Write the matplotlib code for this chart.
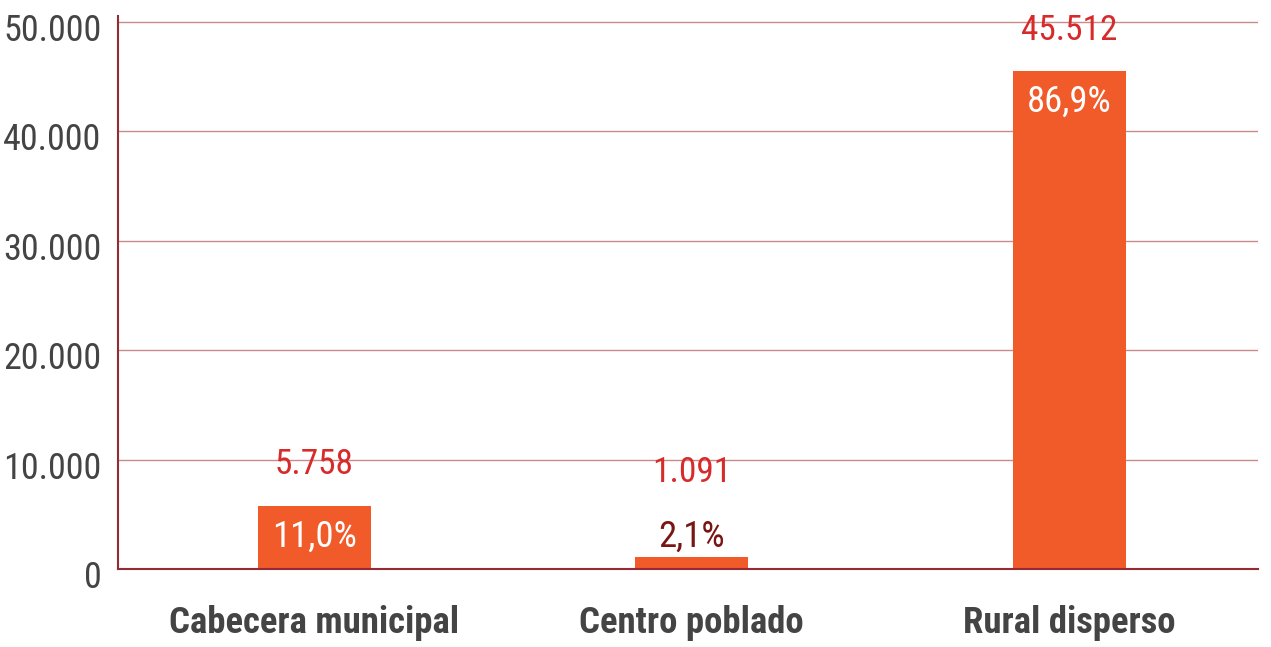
import matplotlib
matplotlib.use("Agg")
import matplotlib.pyplot as plt
from matplotlib.ticker import FuncFormatter
from matplotlib.transforms import ScaledTranslation

categories = ["Cabecera municipal", "Centro poblado", "Rural disperso"]
values = [5758, 1091, 45512]
percents = ["11,0%", "2,1%", "86,9%"]
yticks = [0, 10000, 20000, 30000, 40000, 50000]

FONT = ["Roboto Condensed", "Oswald", "Liberation Sans Narrow", "DejaVu Sans Condensed", "DejaVu Sans"]
plt.rcParams["font.family"] = FONT

BAR = "#F15A29"
VAL = "#D72B2B"
PCT_OUT = "#7A1515"
GRID = "#C98A8C"
SPINE = "#962A32"
TXT = "#444444"

fig = plt.figure(figsize=(12.71, 6.47), dpi=100)
ax = fig.add_axes([0.0928, 0.1206, 0.897, 0.854])

x = list(range(len(categories)))
bars = ax.bar(x, values, width=0.30, color=BAR, zorder=3)

ax.set_xlim(-0.52, 2.5)
ax.set_ylim(0, 50500)
ax.set_yticks(yticks)
ax.yaxis.set_major_formatter(FuncFormatter(lambda v, p: f"{int(v):,}".replace(",", ".")))
ax.grid(axis="y", color=GRID, linewidth=1.0, zorder=0)
ax.set_axisbelow(True)

for s in ["top", "right"]:
    ax.spines[s].set_visible(False)
for s in ["left", "bottom"]:
    ax.spines[s].set_color(SPINE)
    ax.spines[s].set_linewidth(1.5)
    ax.spines[s].set_zorder(4)

ax.tick_params(axis="y", length=0, pad=12, labelsize=26, labelcolor=TXT)
ax.tick_params(axis="x", length=0, pad=26)
ax.set_xticks(x)
ax.set_xticklabels(categories, fontsize=26.5, fontweight="bold", color=TXT)

shift = ScaledTranslation(0, -5 / 100, fig.dpi_scale_trans)
for lab in ax.get_yticklabels():
    lab.set_transform(lab.get_transform() + shift)

for xi, v, p in zip(x, values, percents):
    vtxt = f"{v:,}".replace(",", ".")
    if v < 3000:
        ax.annotate(p, (xi, v), xytext=(0, 20), textcoords="offset pixels",
                    ha="center", va="center", fontsize=26.5, color=PCT_OUT, zorder=5)
        ax.annotate(vtxt, (xi, v), xytext=(0, 85),
                    textcoords="offset pixels", ha="center", va="center",
                    fontsize=25.5, color=VAL, zorder=5)
    else:
        ax.annotate(p, (xi, v), xytext=(0, -31), textcoords="offset pixels",
                    ha="center", va="center", fontsize=26.5, color="white", zorder=5)
        ax.annotate(vtxt, (xi, v), xytext=(0, 41),
                    textcoords="offset pixels", ha="center", va="center",
                    fontsize=25.5, color=VAL, zorder=5)

fig.savefig("out.png", dpi=100)
